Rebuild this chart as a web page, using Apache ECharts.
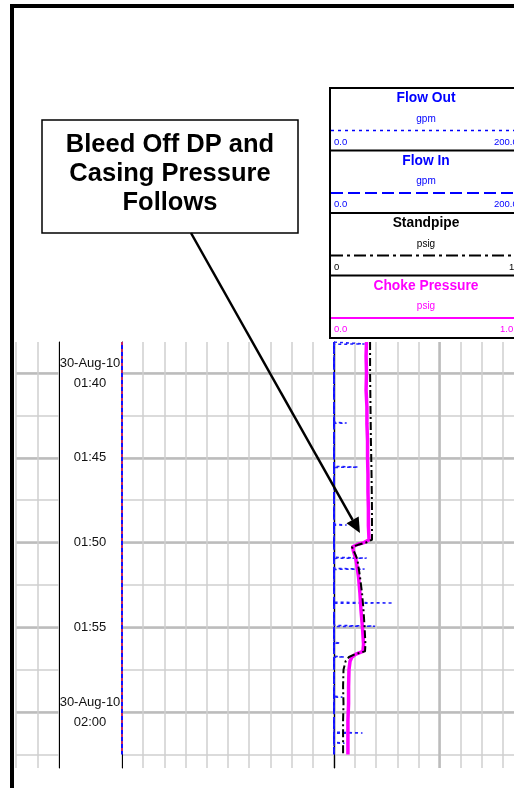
<!DOCTYPE html>
<html>
<head>
<meta charset="utf-8">
<script src="https://cdn.jsdelivr.net/npm/echarts@6/dist/echarts.min.js"></script>
<style>
  html, body { margin: 0; padding: 0; background: #fff; }
  #chart { width: 514px; height: 788px; }
</style>
</head>
<body>
<div id="chart"></div>
<script>
// ---- log window (30-Aug-10) ----
const logDate = '30-Aug-10';
const windowStart = '01:38:10';
const windowEnd = '02:03:18';
const timeTicks = ['01:40', '01:45', '01:50', '01:55', '02:00'];
const datedTicks = ['01:40', '02:00'];

// ---- header curves for the right track ----
const curveNames = ['Flow Out', 'Flow In', 'Standpipe', 'Choke Pressure'];
const curveUnits = ['gpm', 'gpm', 'psig', 'psig'];
const scaleLeftLabels = ['0.0', '0.0', '0', '0.0'];
const scaleRightLabels = ['200.0', '200.0', '1000', '1.0E3'];
const flowScale = [0, 200];
const pressureScale = [0, 1000];

// Choke Pressure (psig)
const chokeTimes = ['01:38:10', '01:39:00', '01:40:00', '01:41:00', '01:42:00', '01:43:00', '01:44:00',
  '01:45:00', '01:46:00', '01:47:00', '01:48:00', '01:49:00', '01:49:50', '01:50:00', '01:50:06',
  '01:50:15', '01:50:30', '01:51:00', '01:52:00', '01:53:00', '01:54:00', '01:55:00', '01:56:00',
  '01:56:25', '01:56:35', '01:56:45', '01:57:00', '01:57:30', '01:58:30', '01:59:30', '02:00:30',
  '02:01:30', '02:02:30'];
const chokeValues = [154, 152, 154, 152, 156, 156, 159, 159, 161, 161, 163, 163, 166, 142, 114,
  88, 92, 104, 116, 123, 128, 135, 140, 137, 104, 85, 76, 71, 69, 69, 66, 66, 66];

// Standpipe (psig)
const standpipeTimes = ['01:38:10', '01:40:00', '01:42:00', '01:44:00', '01:46:00', '01:48:00',
  '01:49:50', '01:50:00', '01:50:08', '01:50:15', '01:50:40', '01:51:00', '01:52:00', '01:53:00',
  '01:54:00', '01:55:00', '01:56:00', '01:56:25', '01:56:35', '01:56:45', '01:57:00', '01:57:30',
  '01:58:30', '01:59:30', '02:00:30', '02:01:30', '02:02:30'];
const standpipeValues = [171, 171, 173, 175, 178, 180, 180, 152, 114, 85, 100, 111, 123, 133,
  140, 145, 149, 147, 100, 71, 55, 45, 43, 45, 43, 43, 43];

// Flow Out (gpm)
const flowOutTimes = ['01:38:10', '01:38:14', '01:38:17', '01:38:18',
  '01:42:54', '01:42:57', '01:42:58', '01:45:30', '01:45:33', '01:45:34',
  '01:48:55', '01:48:58', '01:48:59', '01:50:52', '01:50:55', '01:50:56',
  '01:51:31', '01:51:34', '01:51:35', '01:53:31', '01:53:34', '01:53:35',
  '01:54:53', '01:54:56', '01:54:57', '01:55:53', '01:55:56', '01:55:57',
  '01:56:42', '01:56:45', '01:56:46', '01:59:04', '01:59:07', '01:59:08',
  '02:01:11', '02:01:14', '02:01:15', '02:01:47', '02:01:50', '02:01:51', '02:02:30'];
const flowOutValues = [0, 0, 29, 0, 0, 12, 0, 0, 23, 0, 0, 12, 0, 0, 31, 0, 0, 29, 0, 0, 56, 0,
  0, 39, 0, 0, 6, 0, 0, 10, 0, 0, 8, 0, 0, 27, 0, 0, 10, 0, 0];

// Flow In (gpm)
const flowInTimes = ['01:38:10', '02:02:30'];
const flowInValues = [0, 0];

// curves of the middle track
const midTrackTimes = ['01:38:10', '02:02:30'];
const midTrackBlueValues = [0, 0];
const midTrackRedValues = [0, 0];

// callout
const calloutLines = ['Bleed Off DP and', 'Casing Pressure', 'Follows'];
const calloutTarget = { time: '01:49:26', psig: 123 };

// ---- helpers ----
function toMs(hms) {
  const p = hms.split(':').map(Number);
  return Date.UTC(2010, 7, 30, p[0], p[1], p[2] || 0);
}
const originMs = toMs(timeTicks[0]);
const minutesOf = (hms) => (toMs(hms) - originMs) / 60000;
const pts = (times, vals) => times.map((t, i) => [vals[i], toMs(t)]);

const FONT = '"Liberation Sans", Arial, Helvetica, sans-serif';
const GRID_TOP = 342, GRID_H = 426;
const gridBase = { outerBoundsMode: 'none', containLabel: false };
const grids = [
  Object.assign({ left: 16, top: GRID_TOP, width: 43, height: GRID_H }, gridBase),
  Object.assign({ left: 122, top: GRID_TOP, width: 212, height: GRID_H }, gridBase),
  Object.assign({ left: 334, top: GRID_TOP, width: 211, height: GRID_H }, gridBase)
];

const minorColor = '#cfcfcf', majorColor = '#bcbcbc';

// y axes: per grid a time axis (data), a 2.5-minute axis (thin lines) and a 5-minute axis (thick lines)
const startMin = minutesOf(windowStart), endMin = minutesOf(windowEnd);
const yAxes = [];
grids.forEach((g, gi) => {
  yAxes.push({
    gridIndex: gi, type: 'time', inverse: true,
    min: toMs(windowStart), max: toMs(windowEnd),
    position: gi === 0 ? 'right' : 'left',
    axisLine: { show: true, onZero: false, lineStyle: { color: '#000', width: 1 } },
    axisTick: { show: false }, axisLabel: { show: false }, splitLine: { show: false }
  });
  yAxes.push({
    gridIndex: gi, type: 'value', inverse: true,
    min: startMin / 2.5, max: endMin / 2.5, minInterval: 1, maxInterval: 1,
    axisLine: { show: false, onZero: false }, axisTick: { show: false }, axisLabel: { show: false },
    splitLine: { show: true, showMinLine: false, showMaxLine: false,
      lineStyle: { color: minorColor, width: 1.5 } }
  });
  yAxes.push({
    gridIndex: gi, type: 'value', inverse: true, position: 'left',
    min: startMin / 5, max: endMin / 5, minInterval: 1, maxInterval: 1,
    axisLine: { show: false, onZero: false }, axisTick: { show: false },
    axisLabel: {
      show: gi === 1, showMinLabel: false, showMaxLabel: false,
      align: 'center', verticalAlign: 'middle', margin: 32,
      fontFamily: FONT, fontSize: 13, lineHeight: 20, color: '#111',
      formatter: (v) => {
        const k = Math.round(v);
        if (Math.abs(v - k) > 1e-6 || !timeTicks[k]) return '';
        const t = timeTicks[k];
        return datedTicks.includes(t) ? logDate + '\n' + t : t;
      }
    },
    splitLine: { show: true, showMinLine: false, showMaxLine: false,
      lineStyle: { color: majorColor, width: 2.5 } }
  });
});

const hiddenX = (gi, min, max) => ({ gridIndex: gi, type: 'value', min, max, show: false });
const gridX = (gi, max, width, color) => ({
  gridIndex: gi, type: 'value', min: 0, max, interval: 1, position: 'top',
  axisLine: { show: false, onZero: false }, axisTick: { show: false }, axisLabel: { show: false },
  splitLine: { show: true, lineStyle: { color, width } }
});
const xAxes = [
  gridX(0, 2, 1.5, minorColor),          // 0 left track
  gridX(1, 10, 1.5, minorColor),         // 1 middle track
  gridX(2, 10, 1.5, minorColor),         // 2 right track divisions
  gridX(2, 2, 2.5, majorColor),          // 3 right track centre line
  hiddenX(2, flowScale[0], flowScale[1]),          // 4 flow scale
  hiddenX(2, pressureScale[0], pressureScale[1])   // 5 pressure scale
];

const line = (name, xi, yi, data, color, width, type, z) => ({
  name, type: 'line', xAxisIndex: xi, yAxisIndex: yi, data,
  showSymbol: false, symbol: 'none', silent: true, z,
  lineStyle: { color, width, type: type || 'solid' }
});

const series = [
  line('Middle blue', 1, 3, pts(midTrackTimes, midTrackBlueValues), '#1010ff', 2, 'solid', 3),
  line('Middle red', 1, 3, pts(midTrackTimes, midTrackRedValues), '#ff3030', 1.5, [3, 4], 4),
  line('Flow In', 4, 6, pts(flowInTimes, flowInValues), '#1010ff', 2, [12, 3], 3),
  line('Flow Out', 4, 6, pts(flowOutTimes, flowOutValues), '#2020ff', 1.5, [3, 3], 4),
  line('Choke Pressure', 5, 6, pts(chokeTimes, chokeValues), '#ff00ff', 3.5, 'solid', 5),
  line('Standpipe', 5, 6, pts(standpipeTimes, standpipeValues), '#000000', 2, [8, 3, 2, 3], 6)
];
const CHOKE_SERIES = 4;

// ---- header panel for the right track ----
const curveColors = ['#0000ff', '#0000ff', '#000000', '#ff00ff'];
const curveDash = [[3, 4], [12, 5], [12, 4, 3, 4], null];
const curveWidths = [1.5, 2, 2, 2];
const rightLabelX = [494, 494, 509, 500];
const PANEL_X = 330, PANEL_TOP = 88, PANEL_H = 62.5, PANEL_CX = 426;

const header = [{
  type: 'rect', shape: { x: PANEL_X, y: PANEL_TOP, width: 260, height: PANEL_H * 4 },
  style: { fill: '#fff', stroke: '#000', lineWidth: 2 }, z: 10
}];
curveNames.forEach((name, i) => {
  const top = PANEL_TOP + i * PANEL_H;
  const c = curveColors[i];
  if (i > 0) header.push({ type: 'line', shape: { x1: PANEL_X, y1: top, x2: 600, y2: top },
    style: { stroke: '#000', lineWidth: 2 }, z: 11 });
  header.push({ type: 'text', x: PANEL_CX, y: top + 10.5, z: 11,
    style: { text: name, fill: c, font: 'bold 13.8px ' + FONT, align: 'center', verticalAlign: 'middle' } });
  header.push({ type: 'text', x: PANEL_CX, y: top + 31, z: 11,
    style: { text: curveUnits[i], fill: c, font: '10px ' + FONT, align: 'center', verticalAlign: 'middle' } });
  header.push({ type: 'line', shape: { x1: PANEL_X + 1, y1: top + 42.5, x2: 600, y2: top + 42.5 }, z: 11,
    style: { stroke: c, lineWidth: curveWidths[i], lineDash: curveDash[i] } });
  header.push({ type: 'text', x: 334, y: top + 54, z: 11,
    style: { text: scaleLeftLabels[i], fill: c, font: '9.5px ' + FONT, align: 'left', verticalAlign: 'middle' } });
  header.push({ type: 'text', x: rightLabelX[i], y: top + 54, z: 11,
    style: { text: scaleRightLabels[i], fill: c, font: '9.5px ' + FONT, align: 'left', verticalAlign: 'middle' } });
});

// outer frame
const frame = { type: 'rect', shape: { x: 12, y: 6, width: 800, height: 1000 },
  style: { fill: 'none', stroke: '#000', lineWidth: 4 }, z: 20 };

// callout box
const BOX = { x: 42, y: 120, w: 256, h: 113 };
const callout = [{
  type: 'rect', shape: { x: BOX.x, y: BOX.y, width: BOX.w, height: BOX.h },
  style: { fill: '#fff', stroke: '#000', lineWidth: 1.5 }, z: 12
}];
calloutLines.forEach((t, i) => callout.push({
  type: 'text', x: BOX.x + BOX.w / 2, y: BOX.y + 25 + i * 29, z: 13,
  style: { text: t, fill: '#000', font: 'bold 25.5px ' + FONT, align: 'center', verticalAlign: 'middle' }
}));

const chart = echarts.init(document.getElementById('chart'));
chart.setOption({
  animation: false,
  backgroundColor: '#fff',
  grid: grids,
  xAxis: xAxes,
  yAxis: yAxes,
  series,
  graphic: [frame, ...header, ...callout]
});

// arrow from the callout box to the bleed-off step
const tip = chart.convertToPixel({ seriesIndex: CHOKE_SERIES },
  [calloutTarget.psig, toMs(calloutTarget.time)]);
const start = [191, BOX.y + BOX.h];
const dx = tip[0] - start[0], dy = tip[1] - start[1];
const len = Math.hypot(dx, dy), ux = dx / len, uy = dy / len;
const headLen = 15, headHalf = 7;
const base = [tip[0] - ux * headLen, tip[1] - uy * headLen];
chart.setOption({
  graphic: [frame, ...header, ...callout,
    { type: 'line', z: 14, shape: { x1: start[0], y1: start[1], x2: base[0], y2: base[1] },
      style: { stroke: '#000', lineWidth: 2.5 } },
    { type: 'polygon', z: 14, shape: { points: [tip,
        [base[0] - uy * headHalf, base[1] + ux * headHalf],
        [base[0] + uy * headHalf, base[1] - ux * headHalf]] },
      style: { fill: '#000' } }
  ]
});
</script>
</body>
</html>
